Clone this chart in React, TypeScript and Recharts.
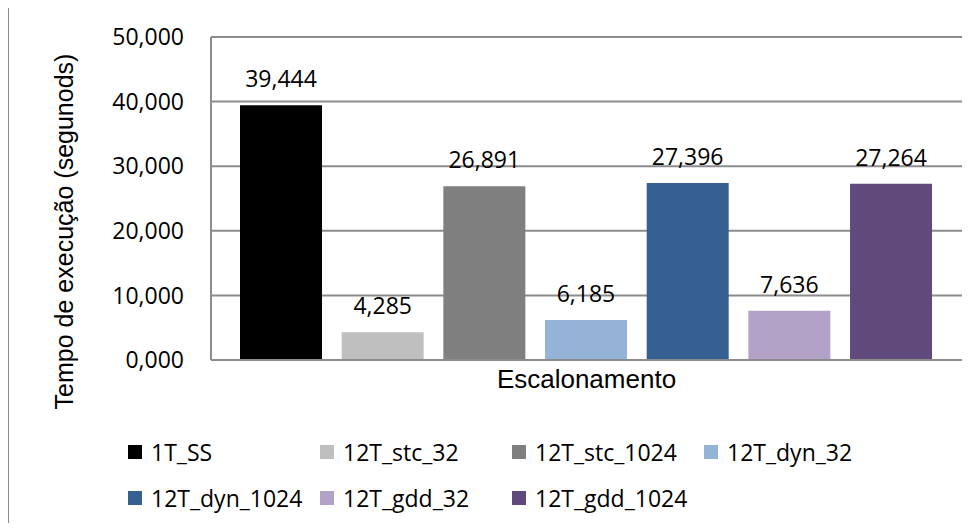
import React from 'react';
import { BarChart, Bar, XAxis, YAxis, CartesianGrid, Legend, LabelList } from 'recharts';

const categories = ['Escalonamento'];
const seriesNames = ['1T_SS', '12T_stc_32', '12T_stc_1024', '12T_dyn_32', '12T_dyn_1024', '12T_gdd_32', '12T_gdd_1024'];
const seriesValues = [39.444, 4.285, 26.891, 6.185, 27.396, 7.636, 27.264];
const seriesColors = ['#000000', '#bfbfbf', '#7f7f7f', '#95b3d7', '#366092', '#b3a2c7', '#604a7b'];
const yTicks = [0, 10, 20, 30, 40, 50];
const titleText = 'Gráfico 1: Tempo de execução da aplicação';
const yTitle = 'Tempo de execução (segunods)';
const xTitle = 'Escalonamento';

const data = categories.map((c) => {
  const row: Record<string, number | string> = { name: c };
  seriesNames.forEach((s, i) => {
    row[s] = seriesValues[i];
  });
  return row;
});

const fmt = (v: number) => Number(v).toFixed(3).replace('.', ',');

const TICK_FONT = '"Open Sans", sans-serif';
const ARIAL = '"Liberation Sans", Arial, sans-serif';

const LegendContent = () => (
  <div style={{ display: 'flex', flexWrap: 'wrap', width: 800, fontFamily: TICK_FONT, fontSize: 23, color: '#000' }}>
    {seriesNames.map((s, i) => (
      <div key={s} style={{ width: 192, height: 46, display: 'flex', alignItems: 'center' }}>
        <span style={{ width: 14, height: 14, background: seriesColors[i], display: 'inline-block', marginRight: 9, flex: 'none' }} />
        <span style={{ whiteSpace: 'nowrap' }}>{s}</span>
      </div>
    ))}
  </div>
);

export default function App() {
  return (
    <div style={{ position: 'relative', width: 977, height: 531, margin: -8, overflow: 'hidden', background: '#fff' }}>
      <div style={{ position: 'absolute', left: 8, top: 7, width: 1100, height: 700, borderLeft: '1px solid #8c8c8c', borderTop: '1px solid #8c8c8c', boxSizing: 'border-box' }} />
      <svg width={977} height={20} style={{ position: 'absolute', left: 0, top: 0 }}>
        <text x={164} y={0} fontFamily={ARIAL} fontWeight="bold" fontSize={32} fill="#000">{titleText}</text>
      </svg>
      <div style={{ position: 'absolute', left: 0, top: 0 }}>
        <BarChart
          width={977}
          height={531}
          data={data}
          margin={{ top: 37, right: 15, bottom: 131, left: 0 }}
          barCategoryGap={30}
          barGap={19.67}
        >
          <CartesianGrid vertical={false} stroke="#8c8c8c" strokeWidth={2} />
          <XAxis
            dataKey="name"
            tick={false}
            tickLine={false}
            height={40}
            axisLine={{ stroke: '#8c8c8c', strokeWidth: 2 }}
            label={{ value: xTitle, position: 'insideTop', offset: 10, fontFamily: ARIAL, fontSize: 26, fill: '#000' }}
          />
          <YAxis
            width={211}
            domain={[0, 50]}
            ticks={yTicks}
            interval={0}
            tickFormatter={fmt}
            tickLine={false}
            tickSize={0}
            tickMargin={27}
            axisLine={{ stroke: '#8c8c8c', strokeWidth: 2 }}
            tick={{ fontFamily: TICK_FONT, fontSize: 23, fill: '#000' }}
            label={{
              content: () => (
                <text
                  x={73}
                  y={231.5}
                  transform="rotate(-90 73 231.5)"
                  textAnchor="middle"
                  fontFamily={ARIAL}
                  fontSize={25}
                  fill="#000"
                >
                  {yTitle}
                </text>
              ),
            }}
          />
          <Legend
            layout="horizontal"
            verticalAlign="middle"
            align="center"
            content={<LegendContent />}
            wrapperStyle={{ top: 429, left: 128, width: 800, height: 92 }}
          />
          {seriesNames.map((s, i) => (
            <Bar key={s} dataKey={s} fill={seriesColors[i]} barSize={82} isAnimationActive={false}>
              <LabelList
                dataKey={s}
                position="top"
                offset={18}
                formatter={(v: any) => fmt(v)}
                style={{ fontFamily: TICK_FONT, fontSize: 23, fill: '#000' }}
              />
            </Bar>
          ))}
        </BarChart>
      </div>
    </div>
  );
}
